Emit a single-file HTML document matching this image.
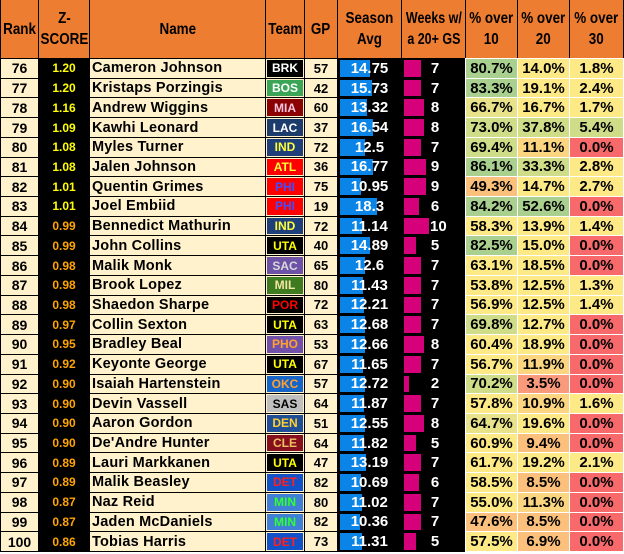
<!DOCTYPE html>
<html><head><meta charset="utf-8"><style>
body{margin:0;width:624px;height:554px;background:#fff;overflow:hidden;font-family:"Liberation Sans",Arial,sans-serif;font-weight:bold}
.g{display:grid;grid-template-columns:37px 50px 175px 38px 32px 63px 63px 51px 51px 53px;grid-template-rows:58px repeat(25,18.72px);gap:1px;background:#000;padding:0 1px 1px 1px;width:622px}
.g>div{display:flex;align-items:center;justify-content:center;font-size:14px;position:relative;overflow:hidden;white-space:nowrap}
.h{background:#ed7d31;color:#000;text-align:center}
.h span{display:inline-block;font-size:16px;line-height:21px;transform:scaleX(.84);white-space:nowrap}
.r{background:#fff2cc;color:#000}
.z{background:#000;font-size:12px!important}
.zy{color:#ffff00}.zo{color:#ffa500}
.n{background:#fff2cc;justify-content:flex-start!important;padding-left:2px;font-size:14.5px!important;letter-spacing:.2px}
.t{background:#fff2cc;font-size:12px!important}
.t span{position:absolute;left:1px;right:1px;top:1px;bottom:1px;display:flex;align-items:center;justify-content:center}
.gp{background:#fff2cc;font-size:13px!important}
.s{background:#000;color:#fff;font-size:15px!important}
.s i{position:absolute;left:2px;top:1px;bottom:1px;background:#0a84e6}
.s b,.w b{position:relative}
.w{background:#000;color:#fff;font-size:15px!important;justify-content:flex-start!important}
.w i{position:absolute;left:2px;top:1px;bottom:1px;background:#d6007b}
.w b{position:absolute;left:26px;width:14px;text-align:center}
.p{font-size:15px!important;color:#000;outline:1px solid #fff;overflow:visible!important}
.G{background:#a9d08e}.L{background:#cfdd89}.Y{background:#fde985}.E{background:#e8e38a}.O{background:#fbc07b}.Q{background:#fcd580}.R{background:#f8696b}.X{background:#f99a7d}
</style></head><body><div class="g">
<div class="h"><span>Rank</span></div><div class="h"><span>Z-<br>SCORE</span></div><div class="h"><span>Name</span></div><div class="h"><span>Team</span></div><div class="h"><span>GP</span></div><div class="h"><span>Season<br>Avg</span></div><div class="h"><span style="transform:scaleX(.78)">Weeks w/<br>a 20+ GS</span></div><div class="h"><span>% over<br>10</span></div><div class="h"><span>% over<br>20</span></div><div class="h"><span>% over<br>30</span></div>

<div class="r">76</div><div class="z zy">1.20</div><div class="n">Cameron Johnson</div><div class="t"><span style="background:#000;color:#fff">BRK</span></div><div class="gp">57</div><div class="s"><i style="width:30px"></i><b>14.75</b></div><div class="w"><i style="width:17px"></i><b>7</b></div><div class="p G">80.7%</div><div class="p Y">14.0%</div><div class="p Y">1.8%</div>
<div class="r">77</div><div class="z zy">1.20</div><div class="n">Kristaps Porzingis</div><div class="t"><span style="background:#3aa556;color:#fff">BOS</span></div><div class="gp">42</div><div class="s"><i style="width:32px"></i><b>15.73</b></div><div class="w"><i style="width:17px"></i><b>7</b></div><div class="p G">83.3%</div><div class="p Y">19.1%</div><div class="p Y">2.4%</div>
<div class="r">78</div><div class="z zy">1.16</div><div class="n">Andrew Wiggins</div><div class="t"><span style="background:#8b0000;color:#f4c6e0">MIA</span></div><div class="gp">60</div><div class="s"><i style="width:27px"></i><b>13.32</b></div><div class="w"><i style="width:20px"></i><b>8</b></div><div class="p E">66.7%</div><div class="p Y">16.7%</div><div class="p Y">1.7%</div>
<div class="r">79</div><div class="z zy">1.09</div><div class="n">Kawhi Leonard</div><div class="t"><span style="background:#1d3c6e;color:#fff">LAC</span></div><div class="gp">37</div><div class="s"><i style="width:33px"></i><b>16.54</b></div><div class="w"><i style="width:20px"></i><b>8</b></div><div class="p L">73.0%</div><div class="p L">37.8%</div><div class="p L">5.4%</div>
<div class="r">80</div><div class="z zy">1.08</div><div class="n">Myles Turner</div><div class="t"><span style="background:#1f3f7a;color:#ffff3a">IND</span></div><div class="gp">72</div><div class="s"><i style="width:25px"></i><b>12.5</b></div><div class="w"><i style="width:17px"></i><b>7</b></div><div class="p L">69.4%</div><div class="p Q">11.1%</div><div class="p R">0.0%</div>
<div class="r">81</div><div class="z zy">1.08</div><div class="n">Jalen Johnson</div><div class="t"><span style="background:#ff0000;color:#ffff3a">ATL</span></div><div class="gp">36</div><div class="s"><i style="width:33px"></i><b>16.77</b></div><div class="w"><i style="width:22px"></i><b>9</b></div><div class="p G">86.1%</div><div class="p L">33.3%</div><div class="p Y">2.8%</div>
<div class="r">82</div><div class="z zy">1.01</div><div class="n">Quentin Grimes</div><div class="t"><span style="background:#ff0000;color:#4050ff">PHI</span></div><div class="gp">75</div><div class="s"><i style="width:21px"></i><b>10.95</b></div><div class="w"><i style="width:22px"></i><b>9</b></div><div class="p O">49.3%</div><div class="p Y">14.7%</div><div class="p Y">2.7%</div>
<div class="r">83</div><div class="z zy">1.01</div><div class="n">Joel Embiid</div><div class="t"><span style="background:#ff0000;color:#4050ff">PHI</span></div><div class="gp">19</div><div class="s"><i style="width:37px"></i><b>18.3</b></div><div class="w"><i style="width:15px"></i><b>6</b></div><div class="p G">84.2%</div><div class="p G">52.6%</div><div class="p R">0.0%</div>
<div class="r">84</div><div class="z zo">0.99</div><div class="n">Bennedict Mathurin</div><div class="t"><span style="background:#1f3f7a;color:#ffff3a">IND</span></div><div class="gp">72</div><div class="s"><i style="width:22px"></i><b>11.14</b></div><div class="w"><i style="width:25px"></i><b style="left:28px">10</b></div><div class="p Y">58.3%</div><div class="p Y">13.9%</div><div class="p Y">1.4%</div>
<div class="r">85</div><div class="z zo">0.99</div><div class="n">John Collins</div><div class="t"><span style="background:#000;color:#ffff00">UTA</span></div><div class="gp">40</div><div class="s"><i style="width:30px"></i><b>14.89</b></div><div class="w"><i style="width:12px"></i><b>5</b></div><div class="p G">82.5%</div><div class="p Y">15.0%</div><div class="p R">0.0%</div>
<div class="r">86</div><div class="z zo">0.98</div><div class="n">Malik Monk</div><div class="t"><span style="background:#6e52a8;color:#d8d8d8">SAC</span></div><div class="gp">65</div><div class="s"><i style="width:25px"></i><b>12.6</b></div><div class="w"><i style="width:17px"></i><b>7</b></div><div class="p Y">63.1%</div><div class="p Y">18.5%</div><div class="p R">0.0%</div>
<div class="r">87</div><div class="z zo">0.98</div><div class="n">Brook Lopez</div><div class="t"><span style="background:#3e7a1f;color:#f2e6a0">MIL</span></div><div class="gp">80</div><div class="s"><i style="width:23px"></i><b>11.43</b></div><div class="w"><i style="width:17px"></i><b>7</b></div><div class="p Y">53.8%</div><div class="p Y">12.5%</div><div class="p Y">1.3%</div>
<div class="r">88</div><div class="z zo">0.98</div><div class="n">Shaedon Sharpe</div><div class="t"><span style="background:#000;color:#ff0000">POR</span></div><div class="gp">72</div><div class="s"><i style="width:24px"></i><b>12.21</b></div><div class="w"><i style="width:17px"></i><b>7</b></div><div class="p Y">56.9%</div><div class="p Y">12.5%</div><div class="p Y">1.4%</div>
<div class="r">89</div><div class="z zo">0.97</div><div class="n">Collin Sexton</div><div class="t"><span style="background:#000;color:#ffff00">UTA</span></div><div class="gp">63</div><div class="s"><i style="width:25px"></i><b>12.68</b></div><div class="w"><i style="width:17px"></i><b>7</b></div><div class="p L">69.8%</div><div class="p Y">12.7%</div><div class="p R">0.0%</div>
<div class="r">90</div><div class="z zo">0.95</div><div class="n">Bradley Beal</div><div class="t"><span style="background:#7050a8;color:#ffa030">PHO</span></div><div class="gp">53</div><div class="s"><i style="width:25px"></i><b>12.66</b></div><div class="w"><i style="width:20px"></i><b>8</b></div><div class="p Y">60.4%</div><div class="p Y">18.9%</div><div class="p R">0.0%</div>
<div class="r">91</div><div class="z zo">0.92</div><div class="n">Keyonte George</div><div class="t"><span style="background:#000;color:#ffff00">UTA</span></div><div class="gp">67</div><div class="s"><i style="width:23px"></i><b>11.65</b></div><div class="w"><i style="width:17px"></i><b>7</b></div><div class="p Y">56.7%</div><div class="p Q">11.9%</div><div class="p R">0.0%</div>
<div class="r">92</div><div class="z zo">0.90</div><div class="n">Isaiah Hartenstein</div><div class="t"><span style="background:#1565c9;color:#ffa030">OKC</span></div><div class="gp">57</div><div class="s"><i style="width:25px"></i><b>12.72</b></div><div class="w"><i style="width:5px"></i><b>2</b></div><div class="p L">70.2%</div><div class="p X">3.5%</div><div class="p R">0.0%</div>
<div class="r">93</div><div class="z zo">0.90</div><div class="n">Devin Vassell</div><div class="t"><span style="background:#bfbfbf;color:#000">SAS</span></div><div class="gp">64</div><div class="s"><i style="width:24px"></i><b>11.87</b></div><div class="w"><i style="width:17px"></i><b>7</b></div><div class="p Y">57.8%</div><div class="p Q">10.9%</div><div class="p Y">1.6%</div>
<div class="r">94</div><div class="z zo">0.90</div><div class="n">Aaron Gordon</div><div class="t"><span style="background:#1f4e96;color:#ffd030">DEN</span></div><div class="gp">51</div><div class="s"><i style="width:25px"></i><b>12.55</b></div><div class="w"><i style="width:20px"></i><b>8</b></div><div class="p E">64.7%</div><div class="p Y">19.6%</div><div class="p R">0.0%</div>
<div class="r">95</div><div class="z zo">0.90</div><div class="n">De'Andre Hunter</div><div class="t"><span style="background:#860f1e;color:#f0c060">CLE</span></div><div class="gp">64</div><div class="s"><i style="width:24px"></i><b>11.82</b></div><div class="w"><i style="width:12px"></i><b>5</b></div><div class="p Y">60.9%</div><div class="p O">9.4%</div><div class="p R">0.0%</div>
<div class="r">96</div><div class="z zo">0.89</div><div class="n">Lauri Markkanen</div><div class="t"><span style="background:#000;color:#ffff00">UTA</span></div><div class="gp">47</div><div class="s"><i style="width:26px"></i><b>13.19</b></div><div class="w"><i style="width:17px"></i><b>7</b></div><div class="p Y">61.7%</div><div class="p Y">19.2%</div><div class="p Y">2.1%</div>
<div class="r">97</div><div class="z zo">0.89</div><div class="n">Malik Beasley</div><div class="t"><span style="background:#1152c8;color:#ff2020">DET</span></div><div class="gp">82</div><div class="s"><i style="width:21px"></i><b>10.69</b></div><div class="w"><i style="width:15px"></i><b>6</b></div><div class="p Y">58.5%</div><div class="p O">8.5%</div><div class="p R">0.0%</div>
<div class="r">98</div><div class="z zo">0.87</div><div class="n">Naz Reid</div><div class="t"><span style="background:#3f7fd6;color:#30ff30">MIN</span></div><div class="gp">80</div><div class="s"><i style="width:22px"></i><b>11.02</b></div><div class="w"><i style="width:17px"></i><b>7</b></div><div class="p Y">55.0%</div><div class="p Q">11.3%</div><div class="p R">0.0%</div>
<div class="r">99</div><div class="z zo">0.87</div><div class="n">Jaden McDaniels</div><div class="t"><span style="background:#3f7fd6;color:#30ff30">MIN</span></div><div class="gp">82</div><div class="s"><i style="width:20px"></i><b>10.36</b></div><div class="w"><i style="width:17px"></i><b>7</b></div><div class="p O">47.6%</div><div class="p O">8.5%</div><div class="p R">0.0%</div>
<div class="r">100</div><div class="z zo">0.86</div><div class="n">Tobias Harris</div><div class="t"><span style="background:#1152c8;color:#ff2020">DET</span></div><div class="gp">73</div><div class="s"><i style="width:22px"></i><b>11.31</b></div><div class="w"><i style="width:12px"></i><b>5</b></div><div class="p Y">57.5%</div><div class="p O">6.9%</div><div class="p R">0.0%</div>
</div></body></html>
